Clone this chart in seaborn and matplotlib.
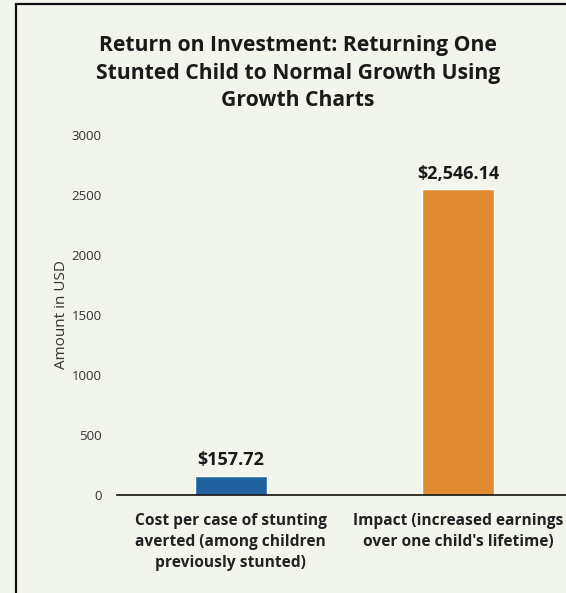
import matplotlib
matplotlib.use("Agg")
import matplotlib.pyplot as plt
import seaborn as sns
import pandas as pd
from matplotlib.patches import Rectangle

categories = [
    "Cost per case of stunting\naverted (among children\npreviously stunted)",
    "Impact (increased earnings\nover one child's lifetime)",
]
amounts = [157.72, 2546.14]
value_labels = ["$157.72", "$2,546.14"]
bar_colors = ["#2161a0", "#e08b31"]
y_ticks = [0, 500, 1000, 1500, 2000, 2500, 3000]

BG = "#f1f5ec"

sns.set_theme(style="white")
plt.rcParams["font.family"] = ["Open Sans", "DejaVu Sans"]

df = pd.DataFrame({"category": categories, "amount": amounts})

fig = plt.figure(figsize=(5.66, 5.93), dpi=100, facecolor=BG)
ax = fig.add_axes([117 / 566, 1 - 495 / 593, 455 / 566, 360 / 593])
ax.set_facecolor(BG)

sns.barplot(data=df, x="category", y="amount", hue="category",
            palette=bar_colors, width=0.315, legend=False, ax=ax,
            saturation=1)

ax.set_xlim(-0.5, 1.5)
ax.set_ylim(0, 3000)
ax.set_yticks(y_ticks)
ax.set_yticklabels([str(t) for t in y_ticks], fontsize=9.5, color="#333333")
ax.tick_params(axis="y", length=0, pad=11)
ax.tick_params(axis="x", length=0, pad=13)
for lbl in ax.get_xticklabels():
    lbl.set_fontsize(11.2)
    lbl.set_fontweight("bold")
    lbl.set_color("#222222")
    lbl.set_linespacing(1.4)

ax.set_xlabel("")
ax.set_ylabel("Amount in USD", fontsize=11, color="#333333", labelpad=2)

for side in ["left", "right", "top"]:
    ax.spines[side].set_visible(False)
ax.spines["bottom"].set_color("#111111")
ax.spines["bottom"].set_linewidth(1.2)

for i, (v, txt) in enumerate(zip(amounts, value_labels)):
    ax.annotate(txt, (i, v), xytext=(0, 5), textcoords="offset points",
                ha="center", va="bottom", fontsize=13, fontweight="bold",
                color="#1a1a1a")

fig.text(298 / 566, 1 - 73 / 593,
         "Return on Investment: Returning One\nStunted Child to Normal Growth Using\nGrowth Charts",
         ha="center", va="center", fontsize=15.2, fontweight="bold",
         color="#1a1a1a", linespacing=1.4)

# outer frame, open at the right and bottom edges
fig.patches.append(Rectangle((16 / 566, -0.05), 1.1, 1 - 4 / 593 + 0.05,
                             transform=fig.transFigure, fill=False,
                             edgecolor="#111111", linewidth=1.6))

fig.savefig("out.png", dpi=100, facecolor=BG)
